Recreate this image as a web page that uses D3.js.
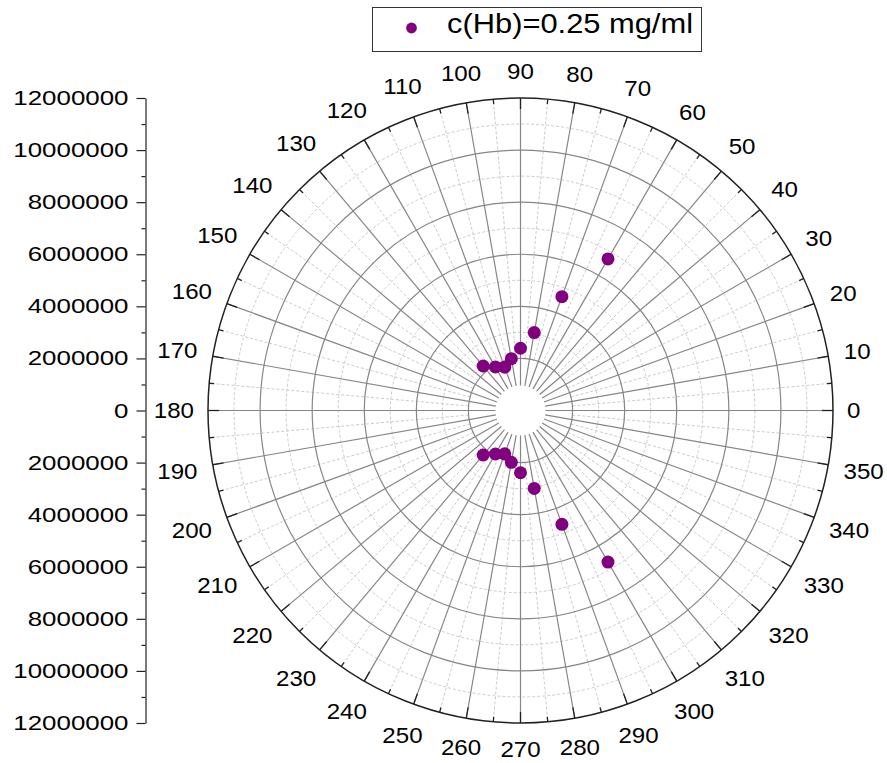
<!DOCTYPE html>
<html>
<head>
<meta charset="utf-8">
<script src="https://cdn.jsdelivr.net/npm/d3@7"></script>
<style>
  body { margin: 0; background: #fff; }
  text { font-family: "Liberation Sans", Arial, sans-serif; fill: #000; }
</style>
</head>
<body>
<script>
// data (angle in degrees, radius in counts)
const anglesUpper = [60, 70, 80, 90, 100, 110, 120, 130];
const radiiUpper  = [6720000, 4650000, 3040000, 2390000, 2020000, 1770000, 1930000, 2230000];
const anglesLower = [230, 240, 250, 260, 270, 280, 290, 300];
const radiiLower  = [2230000, 1930000, 1770000, 2020000, 2390000, 3040000, 4650000, 6720000];
const radialTicks = [0, 2000000, 4000000, 6000000, 8000000, 10000000, 12000000];
const angleTicks = d3.range(0, 360, 10);
const seriesName = "c(Hb)=0.25 mg/ml";

const W = 887, H = 763;
const cx = 520.5, cy = 410.5, R = 312.5;
const hole = 25;
const purple = "#800080";

const svg = d3.select("body").append("svg")
    .attr("width", W).attr("height", H);

const rScale = d3.scaleLinear().domain([0, 12000000]).range([0, R]);
const aScale = d3.scaleLinear().domain([0, 360]).range([0, 2 * Math.PI]);

function px(a, r) { return cx + r * Math.cos(aScale(a)); }
function py(a, r) { return cy - r * Math.sin(aScale(a)); }

const g = svg.append("g");

// minor grid circles (dashed)
g.selectAll(".minorCircle")
    .data([3e6, 5e6, 7e6, 9e6, 11e6])
    .enter().append("circle")
    .attr("cx", cx).attr("cy", cy)
    .attr("r", d => rScale(d))
    .attr("fill", "none")
    .attr("stroke", "#cccccc")
    .attr("stroke-dasharray", "3,2")
    .attr("stroke-width", 1);

// minor spokes (dashed), every 5 degrees between the majors
g.selectAll(".minorSpoke")
    .data(d3.range(5, 360, 10))
    .enter().append("line")
    .attr("x1", d => px(d, rScale(2e6))).attr("y1", d => py(d, rScale(2e6)))
    .attr("x2", d => px(d, R)).attr("y2", d => py(d, R))
    .attr("stroke", "#cccccc")
    .attr("stroke-dasharray", "3,2")
    .attr("stroke-width", 1);

// major grid circles
g.selectAll(".majorCircle")
    .data([2e6, 4e6, 6e6, 8e6, 10e6])
    .enter().append("circle")
    .attr("cx", cx).attr("cy", cy)
    .attr("r", d => rScale(d))
    .attr("fill", "none")
    .attr("stroke", "#868686")
    .attr("stroke-width", 1.2);

// major spokes
g.selectAll(".majorSpoke")
    .data(angleTicks)
    .enter().append("line")
    .attr("x1", d => px(d, hole)).attr("y1", d => py(d, hole))
    .attr("x2", d => px(d, R)).attr("y2", d => py(d, R))
    .attr("stroke", "#868686")
    .attr("stroke-width", 1.2);

// outer circle and ticks
g.append("circle")
    .attr("cx", cx).attr("cy", cy).attr("r", R)
    .attr("fill", "none").attr("stroke", "#222").attr("stroke-width", 1.5);

g.selectAll(".majTick")
    .data(angleTicks)
    .enter().append("line")
    .attr("x1", d => px(d, R - 11)).attr("y1", d => py(d, R - 11))
    .attr("x2", d => px(d, R)).attr("y2", d => py(d, R))
    .attr("stroke", "#222").attr("stroke-width", 1.3);

g.selectAll(".minTick")
    .data(d3.range(5, 360, 10))
    .enter().append("line")
    .attr("x1", d => px(d, R - 5)).attr("y1", d => py(d, R - 5))
    .attr("x2", d => px(d, R)).attr("y2", d => py(d, R))
    .attr("stroke", "#222").attr("stroke-width", 1.3);

// angular labels, placed just outside the circle by their box size
const labelSize = 22.5;
g.selectAll(".aLabel")
    .data(angleTicks)
    .enter().append("text")
    .attr("font-size", labelSize)
    .attr("text-anchor", "middle")
    .attr("dy", "0.35em")
    .text(d => d)
    .each(function (d) {
        const w = this.getComputedTextLength() * 1.07;
        d3.select(this).attr("textLength", w).attr("lengthAdjust", "spacingAndGlyphs");
        const t = aScale(d);
        const rr = R + 14 + Math.abs(Math.cos(t)) * w / 2 + Math.abs(Math.sin(t)) * 12.5;
        d3.select(this).attr("x", px(d, rr)).attr("y", py(d, rr));
    });

// white hole in the middle
g.append("circle")
    .attr("cx", cx).attr("cy", cy).attr("r", hole - 0.5)
    .attr("fill", "#fff");

// data points
const pts = anglesUpper.map((a, i) => ({ a: a, r: radiiUpper[i] }))
    .concat(anglesLower.map((a, i) => ({ a: a, r: radiiLower[i] })));

g.selectAll(".pt")
    .data(pts)
    .enter().append("circle")
    .attr("cx", d => px(d.a, rScale(d.r)))
    .attr("cy", d => py(d.a, rScale(d.r)))
    .attr("r", 6.5)
    .attr("fill", purple);

// radial axis on the left
const axX = 145.5;
const yTop = d3.scaleLinear().domain([0, 12000000]).range([cy, cy - R]);
const yBot = d3.scaleLinear().domain([0, 12000000]).range([cy, cy + R]);

function drawAxis(scale, showZero) {
    const ax = svg.append("g").attr("transform", "translate(" + axX + ",0)");
    ax.call(d3.axisLeft(scale)
        .tickValues(d3.range(1000000, 12000000, 2000000))
        .tickSize(4).tickSizeOuter(0).tickFormat(""));
    ax.selectAll("path, line").attr("stroke", "#222").attr("stroke-width", 1.2);

    const ax2 = svg.append("g").attr("transform", "translate(" + axX + ",0)");
    ax2.call(d3.axisLeft(scale)
        .tickValues(showZero ? radialTicks : radialTicks.slice(1))
        .tickSize(9).tickSizeOuter(0).tickPadding(8)
        .tickFormat(d3.format("d")));
    ax2.select(".domain").remove();
    ax2.selectAll("line").attr("stroke", "#222").attr("stroke-width", 1.2);
    ax2.selectAll("text")
        .attr("font-size", 20.5)
        .attr("fill", "#000")
        .attr("font-family", "Liberation Sans, Arial, sans-serif")
        .attr("textLength", function () { return this.textContent.length * 14.4; })
        .attr("lengthAdjust", "spacingAndGlyphs");
}
drawAxis(yTop, true);
drawAxis(yBot, false);

// legend
const lg = svg.append("g");
lg.append("rect")
    .attr("x", 372.5).attr("y", 7.5)
    .attr("width", 329).attr("height", 44)
    .attr("fill", "#fff").attr("stroke", "#333").attr("stroke-width", 1);
lg.append("circle")
    .attr("cx", 411.5).attr("cy", 28)
    .attr("r", 5.4).attr("fill", purple);
lg.append("text")
    .attr("x", 447).attr("y", 33)
    .attr("font-size", 27)
    .attr("textLength", 246)
    .attr("lengthAdjust", "spacingAndGlyphs")
    .text(seriesName);
</script>
</body>
</html>
